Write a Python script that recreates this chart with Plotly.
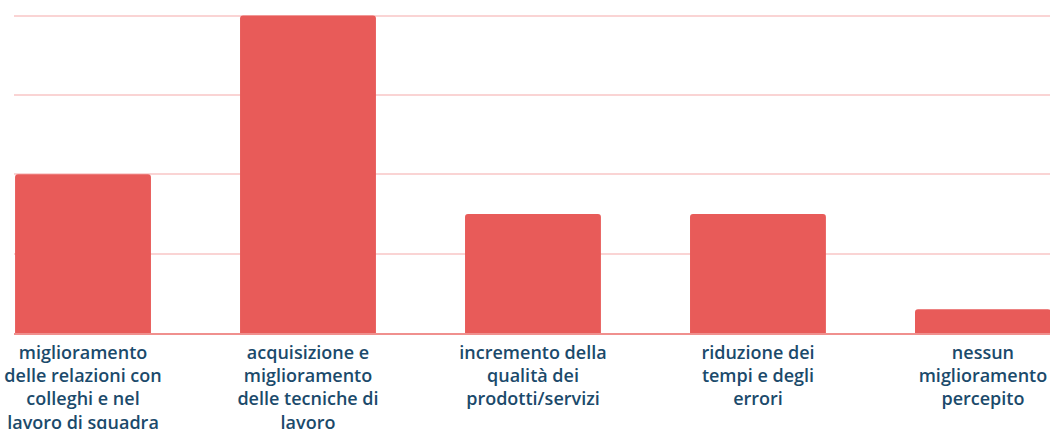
import plotly.graph_objects as go

categories = [
    "miglioramento<br>delle relazioni con<br>colleghi e nel<br>lavoro di squadra",
    "acquisizione e<br>miglioramento<br>delle tecniche di<br>lavoro",
    "incremento della<br>qualità dei<br>prodotti/servizi",
    "riduzione dei<br>tempi e degli<br>errori",
    "nessun<br>miglioramento<br>percepito",
]
values = [20, 40, 15, 15, 3]
grid_ticks = [0, 10, 20, 30, 40]

fig = go.Figure(
    go.Bar(
        x=list(range(len(categories))),
        y=values,
        marker=dict(color="#E85B59", cornerradius=3, line=dict(width=0)),
        width=0.604,
        hoverinfo="skip",
    )
)

fig.update_layout(
    width=1050,
    height=429,
    margin=dict(l=14, r=0, t=14.4, b=96, autoexpand=False),
    paper_bgcolor="white",
    plot_bgcolor="white",
    showlegend=False,
    font=dict(family="Open Sans", size=18, color="#1B4A6B"),
)
fig.update_xaxes(
    range=[-0.3067, 4.298],
    tickmode="array",
    tickvals=list(range(len(categories))),
    ticktext=categories,
    showgrid=False,
    showline=True,
    linecolor="#F0908E",
    linewidth=2,
    ticks="",
    automargin=False,
    ticklabeloverflow="allow",
    ticklabelstandoff=2,
    tickfont=dict(family="Open Sans", size=18, color="#1B4A6B", weight=600),
)
fig.update_yaxes(
    range=[0, 40.2],
    tickvals=grid_ticks,
    showticklabels=False,
    showgrid=True,
    gridcolor="#FAD4D4",
    gridwidth=2,
    zeroline=False,
)

fig.write_html(
    "out.html",
    config={"displayModeBar": False},
    post_script="document.body.style.margin='0';document.body.style.overflow='hidden';",
)
